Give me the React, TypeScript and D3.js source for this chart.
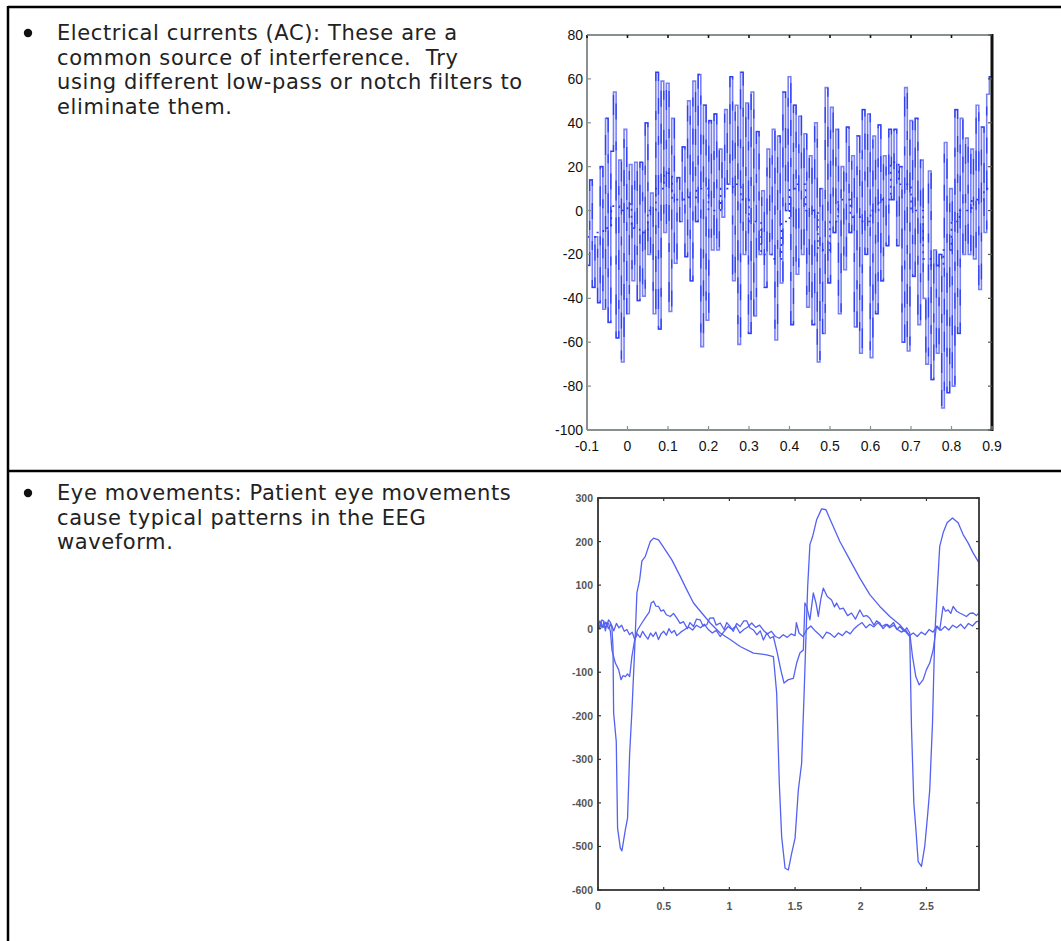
import React from 'react';
import * as d3 from 'd3';

// ---------- Text ----------
const row1Lines = [
  'Electrical currents (AC): These are a',
  'common source of interference.  Try',
  'using different low-pass or notch filters to',
  'eliminate them.',
];
const row2Lines = [
  'Eye movements: Patient eye movements',
  'cause typical patterns in the EEG',
  'waveform.',
];

// ---------- Chart 1: AC interference ----------
const acStart = -0.1;
const acEnd = 0.9;
const acValues = [
  -25, 14, -35, -12, -42, 20, -45, 42, -51, 27,
  54, -58, 23, -69, 37, -47, 21, -32, 22, -41,
  22, -39, 40, -20, 8, -47, 63, -54, 59, -10,
  58, -46, 42, -24, 15, -5, 29, -21, 50, -32,
  59, -5, 62, -62, 48, -50, 41, -18, 44, -18,
  28, -3, 46, 12, 61, -32, 48, -61, 63, -20,
  49, -56, 54, -48, 36, -20, 9, -35, 28, -20,
  37, -59, 34, -33, 54, 0, 61, -52, 48, -29,
  43, -20, 35, -44, 25, -52, 40, -69, 10, -56,
  56, -33, 47, -10, 37, -47, 20, -27, 38, -10,
  25, -53, 34, -65, 46, -20, 44, -67, 34, -47,
  39, -32, 25, -16, 37, 5, 37, -16, 20, -60,
  56, -64, 41, -30, 42, -52, 23, -40, -70, 18,
  -77, -18, -65, -20, -90, 31, -83, 10, -80, 46,
  -56, 42, -20, 33, -20, 28, -22, 48, -36, 38,
  -10, 53, 61, -50,
];
const acTrendT = [-0.1, -0.08, -0.06, -0.04, -0.02, 0, 0.01, 0.03, 0.05, 0.07, 0.09, 0.11, 0.14, 0.17, 0.2, 0.23, 0.26, 0.28, 0.3, 0.33, 0.36, 0.38, 0.4, 0.42, 0.44, 0.47, 0.5, 0.52, 0.55, 0.58, 0.6, 0.62, 0.65, 0.67, 0.7, 0.73, 0.75, 0.78, 0.8, 0.82, 0.85, 0.88, 0.9];
const acTrendV = [-12, -10, -8, 2, 0, 3, -8, -10, 0, 10, 17, 5, 6, 10, 0, 10, 12, 5, -5, -20, -22, -5, 10, 12, 0, -18, -5, 5, -3, -5, 0, 5, 22, 12, 0, -22, -25, -18, -5, 0, 5, 10, 8];
const acXTicks = [-0.1, 0, 0.1, 0.2, 0.3, 0.4, 0.5, 0.6, 0.7, 0.8, 0.9];
const acXTickLabels = ['-0.1', '0', '0.1', '0.2', '0.3', '0.4', '0.5', '0.6', '0.7', '0.8', '0.9'];
const acYTicks = [80, 60, 40, 20, 0, -20, -40, -60, -80, -100];
const acYTickLabels = ['80', '60', '40', '20', '0', '-20', '-40', '-60', '-80', '-100'];

// ---------- Chart 2: eye movements ----------
const eyeATime = [0, 0.01, 0.018, 0.03, 0.043, 0.055, 0.068, 0.08, 0.094, 0.105, 0.114, 0.119, 0.139, 0.149, 0.17, 0.182, 0.208, 0.225, 0.241, 0.258, 0.279, 0.296, 0.317, 0.334, 0.36, 0.398, 0.423, 0.461, 0.512, 0.562, 0.626, 0.676, 0.727, 0.79, 0.854, 0.93, 1.006, 1.082, 1.183, 1.284, 1.335, 1.36, 1.38, 1.398, 1.424, 1.449, 1.474, 1.5, 1.525, 1.55, 1.568, 1.583, 1.596, 1.613, 1.634, 1.664, 1.702, 1.735, 1.778, 1.841, 1.917, 1.993, 2.069, 2.145, 2.221, 2.297, 2.373, 2.386, 2.404, 2.419, 2.437, 2.462, 2.487, 2.508, 2.525, 2.546, 2.563, 2.581, 2.601, 2.627, 2.657, 2.698, 2.741, 2.779, 2.817, 2.855, 2.9];
const eyeAValues = [13, 0, 5, 20, 18, 2, 8, 20, 15, 5, -41, -194, -259, -458, -504, -510, -462, -435, -286, -190, -49, 82, 112, 155, 166, 200, 208, 204, 181, 158, 120, 89, 59, 36, 13, -10, -25, -41, -56, -60, -64, -148, -355, -478, -550, -554, -516, -481, -370, -309, -156, -18, 97, 193, 212, 250, 275, 273, 243, 200, 158, 116, 78, 51, 28, 9, -18, -225, -401, -458, -535, -546, -500, -431, -370, -217, -18, 82, 189, 220, 243, 254, 243, 216, 197, 174, 151];

const eyeBTime = [0, 0.015, 0.03, 0.045, 0.056, 0.07, 0.081, 0.095, 0.106, 0.132, 0.157, 0.175, 0.19, 0.208, 0.225, 0.241, 0.258, 0.279, 0.301, 0.334, 0.367, 0.39, 0.405, 0.423, 0.44, 0.461, 0.48, 0.499, 0.52, 0.55, 0.575, 0.6, 0.625, 0.651, 0.68, 0.7, 0.727, 0.75, 0.778, 0.8, 0.828, 0.85, 0.879, 0.9, 0.93, 0.96, 0.98, 1.006, 1.03, 1.055, 1.082, 1.11, 1.132, 1.155, 1.183, 1.21, 1.235, 1.259, 1.285, 1.31, 1.335, 1.365, 1.391, 1.416, 1.449, 1.487, 1.512, 1.537, 1.563, 1.575, 1.588, 1.613, 1.639, 1.659, 1.677, 1.695, 1.715, 1.745, 1.778, 1.8, 1.816, 1.84, 1.867, 1.9, 1.93, 1.96, 1.993, 2.02, 2.045, 2.069, 2.1, 2.12, 2.145, 2.17, 2.2, 2.221, 2.25, 2.275, 2.297, 2.33, 2.35, 2.373, 2.394, 2.419, 2.444, 2.475, 2.5, 2.525, 2.551, 2.576, 2.601, 2.627, 2.645, 2.665, 2.685, 2.703, 2.73, 2.753, 2.78, 2.804, 2.83, 2.855, 2.88, 2.9];
const eyeBValues = [5, 18, 2, 15, -5, 14, 12, -8, -49, -79, -94, -117, -108, -110, -104, -110, -64, -26, -3, 13, 28, 38, 59, 63, 52, 51, 40, 43, 32, 28, 35, 24, 12, 16, 0, 14, 5, 22, 20, 6, 9, 24, 25, 8, 13, -2, 14, 5, -6, 12, 5, 18, 18, 2, -3, -14, -5, -26, -10, -22, -18, -56, -94, -125, -117, -114, -79, -56, -49, 59, 51, 20, 82, 59, 28, 66, 93, 74, 66, 50, 59, 45, 47, 30, 36, 22, 43, 28, 30, 24, 8, 18, 13, 0, 10, 5, 14, -2, 5, -6, 2, -10, -64, -110, -129, -117, -94, -79, -49, 5, -3, 51, 40, 43, 35, 51, 40, 36, 32, 28, 35, 36, 30, 36];

const eyeCTime = [0, 0.02, 0.04, 0.06, 0.08, 0.1, 0.12, 0.14, 0.16, 0.18, 0.2, 0.22, 0.24, 0.26, 0.28, 0.3, 0.32, 0.34, 0.36, 0.38, 0.4, 0.42, 0.44, 0.46, 0.48, 0.5, 0.52, 0.54, 0.56, 0.58, 0.6, 0.63, 0.66, 0.69, 0.72, 0.75, 0.78, 0.81, 0.84, 0.87, 0.9, 0.93, 0.96, 0.99, 1.02, 1.05, 1.08, 1.11, 1.14, 1.17, 1.2, 1.23, 1.26, 1.29, 1.32, 1.35, 1.38, 1.41, 1.44, 1.47, 1.5, 1.51, 1.53, 1.56, 1.59, 1.62, 1.65, 1.68, 1.71, 1.74, 1.77, 1.8, 1.83, 1.86, 1.89, 1.92, 1.95, 1.98, 2.01, 2.04, 2.07, 2.1, 2.13, 2.16, 2.19, 2.22, 2.25, 2.28, 2.31, 2.34, 2.37, 2.4, 2.43, 2.46, 2.49, 2.52, 2.55, 2.58, 2.61, 2.64, 2.67, 2.7, 2.73, 2.76, 2.79, 2.82, 2.85, 2.88, 2.9];
const eyeCValues = [-2, 12, 3, 15, 0, 10, -5, 12, 2, 8, -6, -2, -14, -8, -25, -12, -20, -6, -16, -24, -10, -18, -8, -25, -12, -6, -15, 0, -10, -4, -16, -8, -2, 4, -3, 8, 2, 10, -2, -10, -4, -18, -6, 5, -2, 6, -10, -2, 4, 13, 3, 8, -4, -12, -6, -18, -22, -14, -20, -12, -16, 14, -10, -18, -2, 6, -4, -12, -22, -8, -12, -20, -10, -16, -6, -12, 0, 8, 14, 2, 10, 4, 14, 5, 10, 2, 8, -2, -8, -2, -16, -10, -18, -8, -14, -2, -8, 6, -4, 5, -3, 8, 2, 10, 0, 12, 6, 16, 17];

const eyeXTicks = [0, 0.5, 1, 1.5, 2, 2.5];
const eyeXTickLabels = ['0', '0.5', '1', '1.5', '2', '2.5'];
const eyeYTicks = [300, 200, 100, 0, -100, -200, -300, -400, -500, -600];
const eyeYTickLabels = ['300', '200', '100', '0', '-100', '-200', '-300', '-400', '-500', '-600'];

const TEXT_FONT = "'DejaVu Sans', 'Noto Sans', sans-serif";
const AXIS_FONT = "'Liberation Sans', Arial, sans-serif";

function AcChart() {
  const left = 587, right = 992, top = 35, bottom = 430;
  const x = d3.scaleLinear().domain([acStart, acEnd]).range([left, right]);
  const y = d3.scaleLinear().domain([-100, 80]).range([bottom, top]);
  const dt = (acEnd - acStart) / (acValues.length - 1);
  const sig = d3.line<number>()
    .x((_, i) => x(acStart + i * dt))
    .y((d) => y(d))
    .curve(d3.curveStepAfter)(acValues) || '';
  const trendPts = acTrendT.map((t, i) => [t, acTrendV[i]] as [number, number]);
  const trend = d3.line<[number, number]>()
    .x((d) => x(d[0]))
    .y((d) => y(d[1]))
    .curve(d3.curveStepAfter)(trendPts) || '';
  return (
    <g>
      <defs>
        <clipPath id="acClip">
          <rect x={left} y={top} width={right - left} height={bottom - top} />
        </clipPath>
      </defs>
      <rect x={left} y={top} width={right - left} height={bottom - top} fill="#fff" />
      <g clipPath="url(#acClip)">
        <path d={sig} fill="none" stroke="#7880f4" strokeWidth={1.6} />
        <path d={sig} fill="none" stroke="#3041f2" strokeWidth={1.3} strokeDasharray="16 22 9 30 20 17" />
        <path d={trend} fill="none" stroke="#2a3af0" strokeWidth={1.6} strokeDasharray="2 5" />
      </g>
      {/* frame */}
      <line x1={left} y1={top} x2={right} y2={top} stroke="#8a8f8f" strokeWidth={2} />
      <line x1={left} y1={top} x2={left} y2={bottom} stroke="#8a8f8f" strokeWidth={2} />
      <line x1={left} y1={bottom} x2={right} y2={bottom} stroke="#8a8f8f" strokeWidth={2} />
      <line x1={right} y1={top - 1} x2={right} y2={bottom + 1} stroke="#111" strokeWidth={3} />
      {acXTicks.map((t, i) => (
        <g key={'xt' + i}>
          <line x1={x(t)} y1={bottom} x2={x(t)} y2={bottom - 4} stroke="#8a8f8f" strokeWidth={1.2} />
          <line x1={x(t)} y1={top} x2={x(t)} y2={top + 3} stroke="#111" strokeWidth={1.6} />
          <text x={x(t)} y={451} textAnchor="middle" fontFamily={AXIS_FONT} fontSize={14} fill="#111">
            {acXTickLabels[i]}
          </text>
        </g>
      ))}
      {acYTicks.map((v, i) => (
        <g key={'yt' + i}>
          <line x1={left} y1={y(v)} x2={left + 4} y2={y(v)} stroke="#8a8f8f" strokeWidth={1.2} />
          <line x1={right} y1={y(v)} x2={right - 4} y2={y(v)} stroke="#555" strokeWidth={1.2} />
          <text x={583} y={y(v) + 5} textAnchor="end" fontFamily={AXIS_FONT} fontSize={14} fill="#111">
            {acYTickLabels[i]}
          </text>
        </g>
      ))}
    </g>
  );
}

function EyeChart() {
  const left = 598, right = 979, top = 498, bottom = 890;
  const x = d3.scaleLinear().domain([0, 2.9]).range([left, right]);
  const y = d3.scaleLinear().domain([-600, 300]).range([bottom, top]);
  const mk = (ts: number[], vs: number[]) =>
    d3.line<[number, number]>()
      .x((d) => x(d[0]))
      .y((d) => y(d[1]))
      .curve(d3.curveLinear)(ts.map((t, i) => [t, vs[i]] as [number, number])) || '';
  const series = [
    mk(eyeATime, eyeAValues),
    mk(eyeBTime, eyeBValues),
    mk(eyeCTime, eyeCValues),
  ];
  return (
    <g>
      <defs>
        <clipPath id="eyeClip">
          <rect x={left} y={top} width={right - left} height={bottom - top} />
        </clipPath>
      </defs>
      <g clipPath="url(#eyeClip)">
        {series.map((d, i) => (
          <path key={i} d={d} fill="none" stroke="#5461f2" strokeWidth={1.3} strokeLinejoin="round" />
        ))}
      </g>
      <rect x={left} y={top} width={right - left} height={bottom - top} fill="none" stroke="#333" strokeWidth={1.8} />
      {eyeXTicks.map((t, i) => (
        <g key={'ex' + i}>
          <line x1={x(t)} y1={bottom} x2={x(t)} y2={bottom - 3} stroke="#333" strokeWidth={1.2} />
          <line x1={x(t)} y1={top} x2={x(t)} y2={top + 3} stroke="#333" strokeWidth={1.2} />
          <text x={x(t)} y={910} textAnchor="middle" fontFamily={AXIS_FONT} fontSize={10.5} fontWeight="bold" fill="#555">
            {eyeXTickLabels[i]}
          </text>
        </g>
      ))}
      {eyeYTicks.map((v, i) => (
        <g key={'ey' + i}>
          <line x1={left} y1={y(v)} x2={left + 3} y2={y(v)} stroke="#333" strokeWidth={1.2} />
          <line x1={right} y1={y(v)} x2={right - 3} y2={y(v)} stroke="#333" strokeWidth={1.2} />
          <text x={593} y={y(v) + 4} textAnchor="end" fontFamily={AXIS_FONT} fontSize={10.5} fontWeight="bold" fill="#555">
            {eyeYTickLabels[i]}
          </text>
        </g>
      ))}
    </g>
  );
}

function TextBlock({ lines, bulletY, firstBaseline }: { lines: string[]; bulletY: number; firstBaseline: number }) {
  return (
    <g>
      <circle cx={28} cy={bulletY} r={4.2} fill="#111" />
      {lines.map((l, i) => (
        <text key={i} x={57} y={firstBaseline + i * 24.5} fontFamily={TEXT_FONT} fontSize={21} letterSpacing={0.6} fill="#222" style={{ whiteSpace: 'pre' }}>
          {l}
        </text>
      ))}
    </g>
  );
}

export default function App() {
  return (
    <div style={{ position: 'absolute', left: 0, top: 0 }}>
      <svg width={1061} height={941} viewBox="0 0 1061 941" style={{ display: 'block', background: '#fff' }}>
        <rect x={0} y={0} width={1061} height={941} fill="#fff" />
        {/* table rules */}
        <line x1={8} y1={7} x2={1061} y2={7} stroke="#000" strokeWidth={2.5} />
        <line x1={8} y1={6} x2={8} y2={941} stroke="#000" strokeWidth={2.5} />
        <line x1={8} y1={471} x2={1061} y2={471} stroke="#000" strokeWidth={2.5} />
        <TextBlock lines={row1Lines} bulletY={33} firstBaseline={40} />
        <TextBlock lines={row2Lines} bulletY={493} firstBaseline={500} />
        <AcChart />
        <EyeChart />
      </svg>
    </div>
  );
}
